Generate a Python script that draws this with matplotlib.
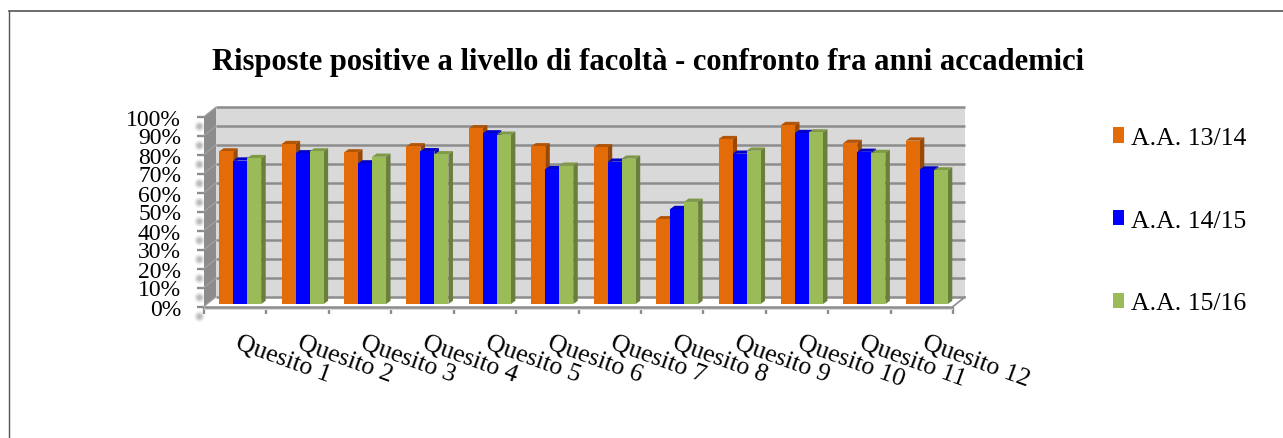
import matplotlib
matplotlib.use("Agg")
import matplotlib.pyplot as plt
import numpy as np
from matplotlib.lines import Line2D
from matplotlib.patches import Polygon, Rectangle

title = "Risposte positive a livello di facoltà - confronto fra anni accademici"
categories = ["Quesito %d" % i for i in range(1, 13)]
series_names = ["A.A. 13/14", "A.A. 14/15", "A.A. 15/16"]
aa_1314 = [80.3, 84.2, 79.8, 83.0, 92.5, 83.0, 82.5, 44.6, 86.8, 94.2, 84.8, 86.0]
aa_1415 = [75.5, 79.3, 74.0, 80.4, 89.8, 71.0, 74.9, 50.0, 79.1, 90.0, 80.1, 70.8]
aa_1516 = [76.8, 80.3, 77.5, 78.8, 89.1, 72.8, 76.5, 53.8, 80.7, 90.3, 79.5, 70.3]
y_ticks = list(range(0, 101, 10))
y_labels = ["%d%%" % v for v in y_ticks]

W, H = 1283, 439
FACE = ["#E36C09", "#0000FF", "#9BBB59"]
TOP = ["#B35507", "#0000C8", "#7F9A46"]
SIDE = ["#984807", "#0000B0", "#6A7F3B"]
GRID = "#8C8C8C"
SERIF = "Liberation Serif"

fig = plt.figure(figsize=(W / 100, H / 100), dpi=100)
fig.patch.set_facecolor("white")
plt.rcParams["font.family"] = SERIF

# axes = the front plane of the pseudo-3D box
L, R, T, B = 204, 953, 117.5, 307.5
ax = fig.add_axes([L / W, 1 - B / H, (R - L) / W, (B - T) / H])
ax.set_xlim(-0.5, 11.5)
ax.set_ylim(0, 100)
ax.patch.set_visible(False)
for s in ax.spines.values():
    s.set_visible(False)

CAT_PX = (R - L) / 12      # pixels per category
VAL_PX = (B - T) / 100     # pixels per value unit
DX = 12 / CAT_PX           # wall depth in category units
DY = 9.5 / VAL_PX          # wall depth in value units


def poly(pts, fc, z, ec="none", lw=0):
    ax.add_patch(Polygon(pts, closed=True, facecolor=fc, edgecolor=ec, linewidth=lw,
                         zorder=z, clip_on=False))


# back wall, side wall, floor
ax.add_patch(Rectangle((-0.5 + DX, DY), 12, 100, facecolor="#D9D9D9", edgecolor="none",
                       zorder=1, clip_on=False))
poly([(-0.5, 0), (-0.5, 100), (-0.5 + DX, 100 + DY), (-0.5 + DX, DY)], "#8C8C8C", 1.5)
poly([(-0.5, 0), (11.5, 0), (11.5 + DX, DY), (-0.5 + DX, DY)], "white", 1.6)
ax.add_patch(Rectangle((-0.5, -1.9), 12, 1.9, facecolor="#D9D9D9", edgecolor="none",
                       zorder=1.6, clip_on=False))

for v in y_ticks:
    ax.plot([-0.5 + DX, 11.5 + DX], [v + DY, v + DY], color=GRID, lw=1.8, zorder=1.7,
            clip_on=False, solid_capstyle="butt")
    ax.plot([-0.5, -0.5 + DX], [v, v + DY], color="#A3A3A3", lw=0.8, zorder=1.7, clip_on=False)
ax.plot([-0.5, 11.5], [0, 0], color=GRID, lw=1.8, zorder=1.8, clip_on=False,
        solid_capstyle="butt")
ax.plot([11.5, 11.5 + DX], [0, DY], color=GRID, lw=1.2, zorder=1.8, clip_on=False)

# soft shadows beside the value axis
for sz, a in [(60, 0.12), (30, 0.20), (12, 0.30)]:
    ax.scatter([-0.5 - 5 / CAT_PX] * len(y_ticks), [v - DY for v in y_ticks],
               s=sz, color="#808080", alpha=a, linewidths=0, zorder=1.2, clip_on=False)

# bars
x = np.arange(len(categories))
bw = 14 / CAT_PX
off_x = 5 / CAT_PX
off_y = 2.5 / VAL_PX
bdx = 4.5 / CAT_PX
bdy = 3.2 / VAL_PX
handles = []
for k, vals in enumerate([aa_1314, aa_1415, aa_1516]):
    z = 3 + k
    xs = x + off_x + (k - 1) * bw
    bars = ax.bar(xs, vals, width=bw, bottom=off_y, color=FACE[k],
                  linewidth=0, zorder=z + 0.5, clip_on=False, label=series_names[k])
    handles.append(bars)
    for xc, v in zip(xs, vals):
        l, r = xc - bw / 2, xc + bw / 2
        top = v + off_y
        poly([(l, top), (r, top), (r + bdx, top + bdy), (l + bdx, top + bdy)], TOP[k], z)
        poly([(r, off_y), (r, top), (r + bdx, top + bdy), (r + bdx, off_y + bdy)], SIDE[k], z)

# axes ticks and labels
ax.set_yticks(y_ticks, y_labels, fontsize=17, family=SERIF)
ax.tick_params(axis="y", length=5, width=1.7, color=GRID, pad=11.5)
ax.set_xticks(np.arange(13) - 0.5)
ax.set_xticklabels([])
ax.tick_params(axis="x", which="major", length=5, width=1.7, color=GRID)
ax.set_xticks(x + 5 / CAT_PX, categories, minor=True, fontsize=18.5, family=SERIF, rotation=-20,
              ha="left", va="top", rotation_mode="anchor")
ax.tick_params(axis="x", which="minor", length=0, pad=18)

fig.text(648 / W, 1 - 62.5 / H, title, ha="center", va="center", fontsize=22,
         fontweight="bold", family=SERIF, color="black")

leg = fig.legend(handles=handles, loc="upper left", bbox_to_anchor=(1108 / W, 1 - 123 / H),
                 frameon=False, handlelength=0.44, handleheight=0.55,
                 handletextpad=0.24, labelspacing=2.36, borderpad=0.2, borderaxespad=0,
                 prop={"family": SERIF, "size": 18.5})

# outer frame of the chart area
fig.add_artist(Line2D([9 / W, 1], [1 - 12 / H, 1 - 12 / H], color="#555555", lw=1.2))
fig.add_artist(Line2D([9 / W, 9 / W], [0, 1 - 12 / H], color="#555555", lw=1.0))

fig.savefig("out.png", dpi=100, facecolor="white")
